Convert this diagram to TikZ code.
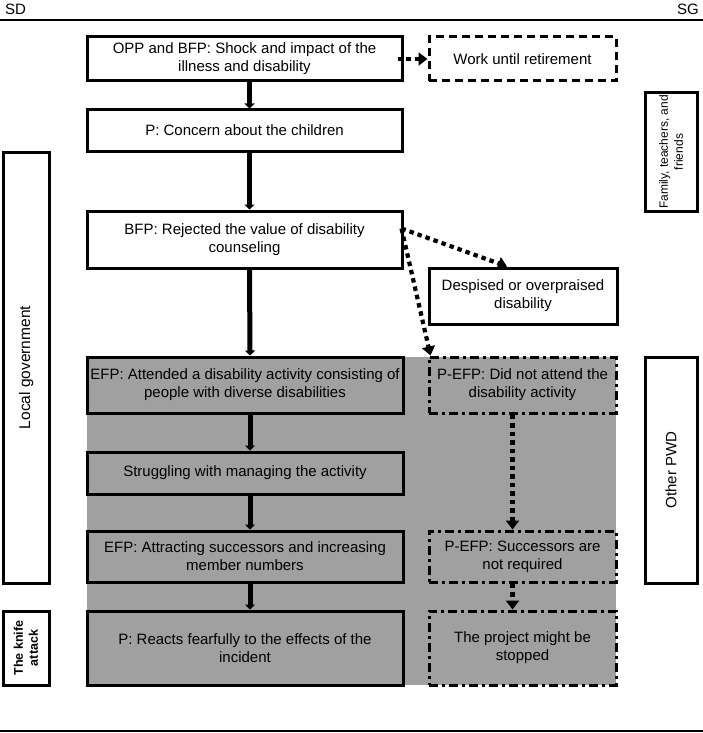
\documentclass[tikz,border=0pt]{standalone}
\usepackage{fontspec}
\setmainfont{Liberation Sans}
\usetikzlibrary{arrows.meta}
\definecolor{bggray}{HTML}{A0A0A0}
\begin{document}
\begin{tikzpicture}[x=1pt,y=-1pt,
  every node/.style={font=\fontsize{15}{18}\selectfont},
  box/.style={draw, line width=3pt, align=center, inner sep=0pt},
  dashbox/.style={box, dash pattern=on 8pt off 5pt},
  dotdashbox/.style={box, fill=bggray, dash pattern=on 9pt off 4pt on 3pt off 4pt},
  graybox/.style={box, fill=bggray},
  sidebox/.style={box, rotate=90},
  smalltext/.style={font=\fontsize{12}{15}\selectfont},
  flow/.style={line width=5pt, -{Triangle[width=10pt,length=5pt]}},
  dotflow/.style={line width=4.2pt, dash pattern=on 4.5pt off 4pt, -{Triangle[width=13pt,length=9pt]}},
  rule/.style={line width=1.8pt}
]
\useasboundingbox (0,0) rectangle (703,733);
% header / footer
\node[anchor=west, inner sep=0pt] (sd) at (5,9) {SD};
\node[anchor=east, inner sep=0pt] (sg) at (699,9) {SG};
\coordinate (tl) at (0,20);
\coordinate (tr) at (703,20);
\coordinate (bl) at (0,731);
\coordinate (br) at (703,731);
\draw[rule] (tl) -- (tr);
\draw[rule] (bl) -- (br);
% gray background
\fill[bggray] (87,357) rectangle (616,685);
% left column
\node[box, minimum width=315, minimum height=44] (opp) at (244.5,59) {OPP and BFP: Shock and impact of the\\illness and disability};
\node[box, minimum width=315, minimum height=41] (pc) at (244.5,130.5) {P: Concern about the children};
\node[box, minimum width=315, minimum height=57] (bfp) at (244.5,239.5) {BFP: Rejected the value of disability\\counseling};
\node[graybox, minimum width=316, minimum height=56] (efp) at (245,385) {EFP: Attended a disability activity consisting of\\people with diverse disabilities};
\node[graybox, minimum width=316, minimum height=42] (strug) at (245,473) {Struggling with managing the activity};
\node[graybox, minimum width=316, minimum height=51] (attr) at (245,556.5) {EFP: Attracting successors and increasing\\member numbers};
\node[graybox, minimum width=316, minimum height=74] (react) at (245,648) {P: Reacts fearfully to the effects of the\\incident};
% right column
\node[dashbox, minimum width=187, minimum height=44] (work) at (522.5,59) {Work until retirement};
\node[box, minimum width=188, minimum height=56] (desp) at (523,296) {Despised or overpraised\\disability};
\node[dotdashbox, minimum width=187, minimum height=56] (pefp) at (522.5,385) {P-EFP: Did not attend the\\disability activity};
\node[dotdashbox, minimum width=187, minimum height=51] (succ) at (522.5,556.5) {P-EFP: Successors are\\not required};
\node[dotdashbox, minimum width=187, minimum height=74] (proj) at (522.5,648) {The project might be\\stopped};
% side labels
\node[sidebox, font=\fontsize{15.5}{18}\selectfont, minimum width=431, minimum height=46] (lg) at (26,367.5) {Local government};
\node[sidebox, font=\fontsize{12.5}{15}\selectfont\bfseries, minimum width=74, minimum height=46] (knife) at (26,648) {The knife\\attack};
\node[sidebox, smalltext, minimum width=118, minimum height=52] (fam) at (671,152) {Family, teachers, and\\friends};
\node[sidebox, minimum width=226, minimum height=52] (pwd) at (671,470) {Other PWD};
% solid flow
\draw[flow] ([xshift=5pt]opp.south) -- ([xshift=5pt]pc.north);
\draw[flow] ([xshift=5pt]pc.south) -- ([xshift=5pt]bfp.north);
\draw[flow] ([xshift=5pt]bfp.south) -- ([xshift=5pt]efp.north);
\draw[flow] ([xshift=5pt]efp.south) -- ([xshift=5pt]strug.north);
\draw[flow] ([xshift=5pt]strug.south) -- ([xshift=5pt]attr.north);
\draw[flow] ([xshift=5pt]attr.south) -- ([xshift=5pt]react.north);
% dotted flow
\draw[dotflow] ([xshift=-6pt]opp.east) -- (work.west);
\draw[dotflow] ([xshift=-2pt,yshift=-19pt]bfp.north east) -- ([xshift=-16pt]desp.north);
\draw[dotflow] ([xshift=-2pt,yshift=-19pt]bfp.north east) -- ([xshift=3pt]pefp.north west);
\draw[dotflow] ([xshift=-10pt]pefp.south) -- ([xshift=-10pt]succ.north);
\draw[dotflow] ([xshift=-10pt]succ.south) -- ([xshift=-10pt]proj.north);
\end{tikzpicture}
\end{document}
